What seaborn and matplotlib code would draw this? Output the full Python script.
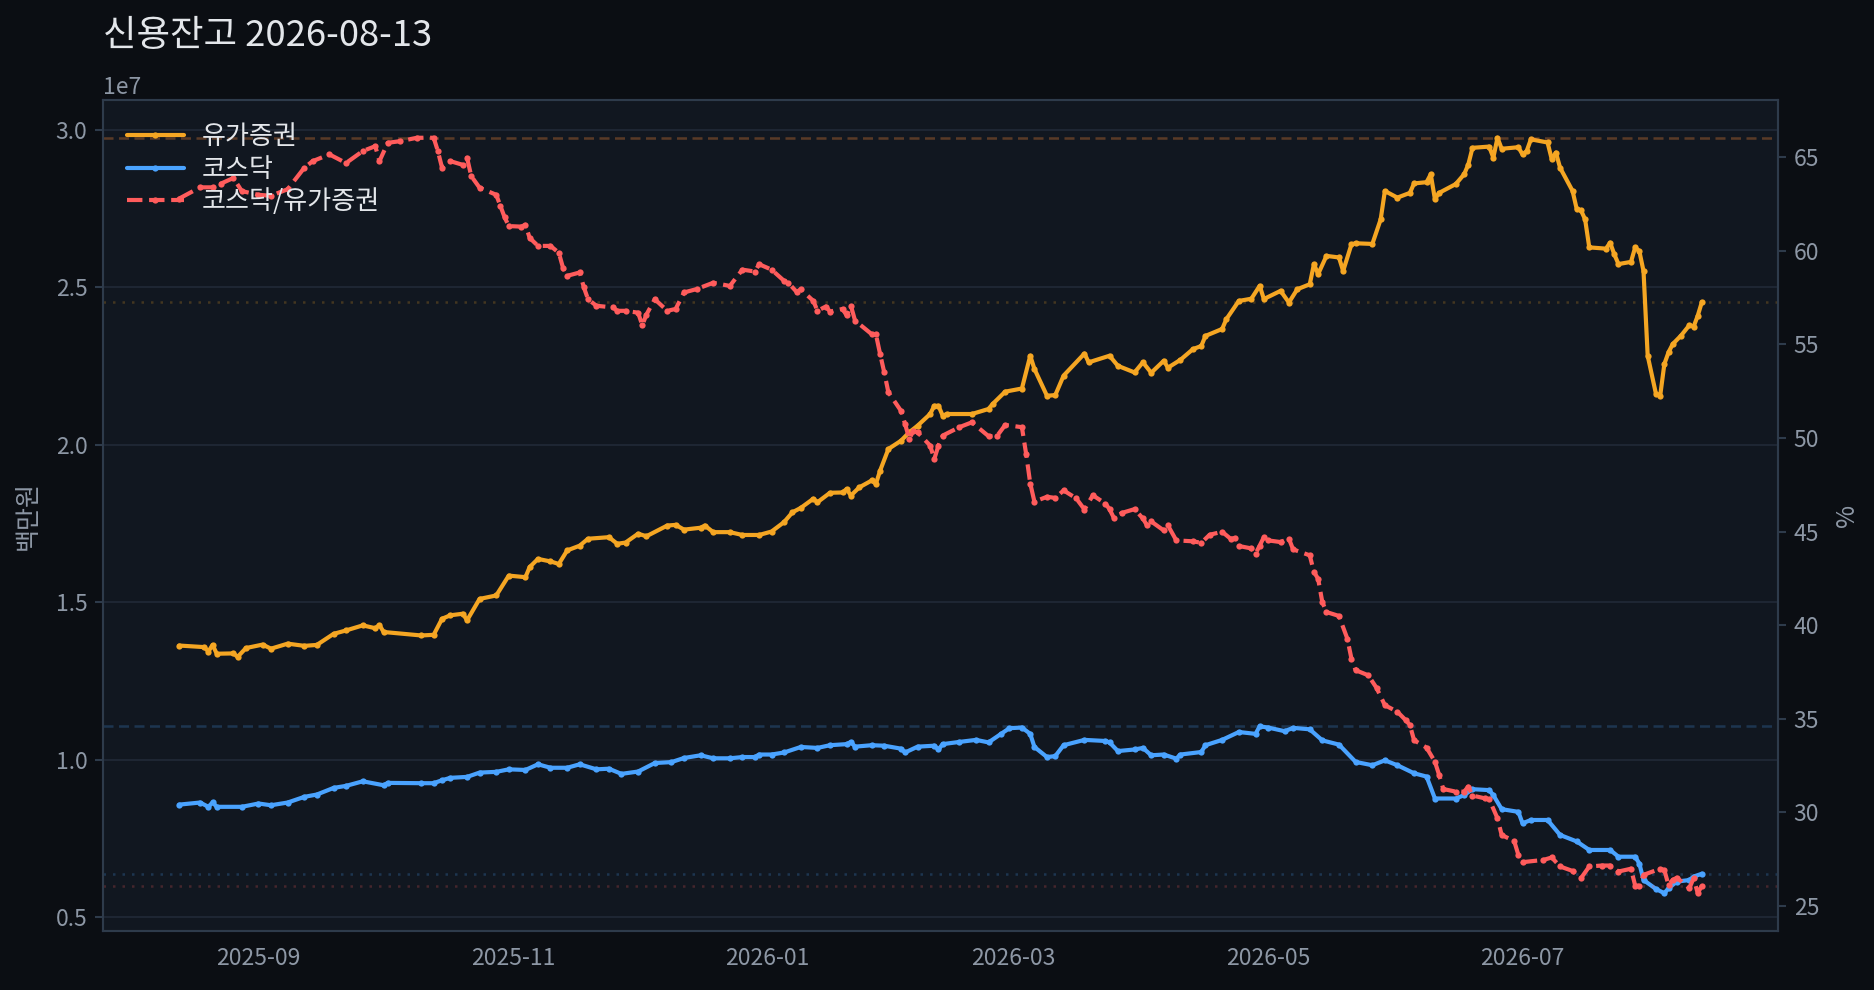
import matplotlib
matplotlib.use("Agg")
import matplotlib.pyplot as plt
import matplotlib.dates as mdates
import pandas as pd
import seaborn as sns

# ---------------- data ----------------
kospi_dates = [
    "2025-08-13", "2025-08-19", "2025-08-20", "2025-08-21", "2025-08-22", "2025-08-26", "2025-08-27",
    "2025-08-29", "2025-09-02", "2025-09-04", "2025-09-08", "2025-09-12", "2025-09-15", "2025-09-19",
    "2025-09-22", "2025-09-26", "2025-09-29", "2025-09-30", "2025-10-01", "2025-10-10", "2025-10-13",
    "2025-10-15", "2025-10-17", "2025-10-20", "2025-10-21", "2025-10-24", "2025-10-28", "2025-10-31",
    "2025-11-04", "2025-11-05", "2025-11-07", "2025-11-10", "2025-11-12", "2025-11-14", "2025-11-17",
    "2025-11-19", "2025-11-24", "2025-11-26", "2025-11-28", "2025-12-01", "2025-12-03", "2025-12-08",
    "2025-12-10", "2025-12-12", "2025-12-16", "2025-12-17", "2025-12-19", "2025-12-23", "2025-12-26",
    "2025-12-30", "2026-01-02", "2026-01-05", "2026-01-07", "2026-01-09", "2026-01-12", "2026-01-13",
    "2026-01-16", "2026-01-19", "2026-01-20", "2026-01-21", "2026-01-23", "2026-01-26", "2026-01-27",
    "2026-01-28", "2026-01-30", "2026-02-02", "2026-02-04", "2026-02-06", "2026-02-09", "2026-02-10",
    "2026-02-11", "2026-02-12", "2026-02-13", "2026-02-19", "2026-02-23", "2026-02-24", "2026-02-27",
    "2026-03-03", "2026-03-05", "2026-03-06", "2026-03-09", "2026-03-11", "2026-03-13", "2026-03-18",
    "2026-03-19", "2026-03-24", "2026-03-26", "2026-03-30", "2026-04-01", "2026-04-03", "2026-04-06",
    "2026-04-07", "2026-04-10", "2026-04-13", "2026-04-15", "2026-04-16", "2026-04-20", "2026-04-21",
    "2026-04-24", "2026-04-27", "2026-04-29", "2026-04-30", "2026-05-04", "2026-05-06", "2026-05-08",
    "2026-05-11", "2026-05-12", "2026-05-13", "2026-05-15", "2026-05-18", "2026-05-19", "2026-05-21",
    "2026-05-22", "2026-05-26", "2026-05-28", "2026-05-29", "2026-06-01", "2026-06-04", "2026-06-05",
    "2026-06-08", "2026-06-09", "2026-06-10", "2026-06-11", "2026-06-15", "2026-06-17", "2026-06-18",
    "2026-06-19", "2026-06-23", "2026-06-24", "2026-06-25", "2026-06-26", "2026-06-30", "2026-07-01",
    "2026-07-02", "2026-07-03", "2026-07-07", "2026-07-08", "2026-07-09", "2026-07-10", "2026-07-13",
    "2026-07-14", "2026-07-15", "2026-07-16", "2026-07-17", "2026-07-21", "2026-07-22", "2026-07-23",
    "2026-07-24", "2026-07-27", "2026-07-28", "2026-07-29", "2026-07-30", "2026-07-31", "2026-08-02",
    "2026-08-03", "2026-08-04", "2026-08-05", "2026-08-06", "2026-08-08", "2026-08-10", "2026-08-11",
    "2026-08-12", "2026-08-13",
]
kospi_values = [  # 백만원
    13630000, 13580000, 13440000, 13650000, 13370000, 13380000, 13270000,
    13550000, 13660000, 13530000, 13690000, 13620000, 13650000, 14000000,
    14110000, 14270000, 14180000, 14280000, 14060000, 13950000, 13970000,
    14480000, 14590000, 14640000, 14430000, 15110000, 15220000, 15850000,
    15800000, 16120000, 16380000, 16300000, 16220000, 16650000, 16800000,
    17020000, 17070000, 16860000, 16900000, 17180000, 17100000, 17440000,
    17460000, 17310000, 17370000, 17440000, 17230000, 17230000, 17140000,
    17140000, 17250000, 17550000, 17860000, 18000000, 18290000, 18180000,
    18480000, 18490000, 18600000, 18390000, 18650000, 18870000, 18760000,
    19180000, 19870000, 20130000, 20400000, 20610000, 20980000, 21240000,
    21240000, 20930000, 20980000, 20980000, 21140000, 21300000, 21690000,
    21790000, 22830000, 22410000, 21560000, 21580000, 22200000, 22900000,
    22620000, 22830000, 22510000, 22300000, 22620000, 22290000, 22670000,
    22450000, 22700000, 23040000, 23140000, 23460000, 23680000, 23990000,
    24570000, 24640000, 25050000, 24630000, 24890000, 24520000, 24940000,
    25100000, 25740000, 25420000, 26000000, 25950000, 25520000, 26370000,
    26400000, 26380000, 27160000, 28060000, 27850000, 28000000, 28300000,
    28340000, 28590000, 27800000, 28000000, 28280000, 28590000, 28900000,
    29430000, 29470000, 29120000, 29750000, 29400000, 29450000, 29220000,
    29330000, 29700000, 29600000, 29070000, 29280000, 28800000, 28060000,
    27480000, 27450000, 27160000, 26270000, 26230000, 26420000, 26050000,
    25740000, 25810000, 26270000, 26150000, 25520000, 22830000, 21610000,
    21560000, 22570000, 22940000, 23200000, 23470000, 23800000, 23750000,
    24100000, 24540000,
]

kosdaq_dates = [
    "2025-08-13", "2025-08-18", "2025-08-20", "2025-08-21", "2025-08-22", "2025-08-28", "2025-09-01",
    "2025-09-04", "2025-09-08", "2025-09-12", "2025-09-15", "2025-09-19", "2025-09-22", "2025-09-26",
    "2025-10-01", "2025-10-02", "2025-10-10", "2025-10-13", "2025-10-15", "2025-10-17", "2025-10-21",
    "2025-10-24", "2025-10-28", "2025-10-31", "2025-11-04", "2025-11-07", "2025-11-10", "2025-11-14",
    "2025-11-17", "2025-11-21", "2025-11-24", "2025-11-27", "2025-12-01", "2025-12-05", "2025-12-09",
    "2025-12-12", "2025-12-16", "2025-12-19", "2025-12-23", "2025-12-26", "2025-12-29", "2025-12-30",
    "2026-01-02", "2026-01-05", "2026-01-09", "2026-01-13", "2026-01-16", "2026-01-20", "2026-01-21",
    "2026-01-22", "2026-01-26", "2026-01-29", "2026-02-02", "2026-02-03", "2026-02-06", "2026-02-10",
    "2026-02-11", "2026-02-12", "2026-02-16", "2026-02-20", "2026-02-23", "2026-02-26", "2026-02-28",
    "2026-03-03", "2026-03-05", "2026-03-06", "2026-03-09", "2026-03-11", "2026-03-13", "2026-03-18",
    "2026-03-23", "2026-03-24", "2026-03-26", "2026-03-30", "2026-04-01", "2026-04-03", "2026-04-06",
    "2026-04-09", "2026-04-10", "2026-04-15", "2026-04-16", "2026-04-20", "2026-04-24", "2026-04-28",
    "2026-04-29", "2026-05-01", "2026-05-05", "2026-05-07", "2026-05-11", "2026-05-14", "2026-05-18",
    "2026-05-22", "2026-05-26", "2026-05-29", "2026-06-01", "2026-06-05", "2026-06-08", "2026-06-10",
    "2026-06-15", "2026-06-17", "2026-06-19", "2026-06-23", "2026-06-24", "2026-06-26", "2026-06-30",
    "2026-07-01", "2026-07-03", "2026-07-07", "2026-07-10", "2026-07-14", "2026-07-17", "2026-07-22",
    "2026-07-24", "2026-07-28", "2026-07-29", "2026-07-30", "2026-08-02", "2026-08-04", "2026-08-05",
    "2026-08-07", "2026-08-10", "2026-08-11", "2026-08-13",
]
kosdaq_values = [  # 백만원
    8580000, 8646000, 8510000, 8650000, 8510000, 8510000, 8615000,
    8560000, 8646000, 8827000, 8900000, 9110000, 9175000, 9320000,
    9195000, 9270000, 9260000, 9260000, 9354000, 9430000, 9460000,
    9597000, 9620000, 9700000, 9680000, 9860000, 9750000, 9750000,
    9860000, 9700000, 9720000, 9556000, 9630000, 9900000, 9930000,
    10060000, 10146000, 10050000, 10050000, 10090000, 10090000, 10170000,
    10170000, 10235000, 10410000, 10380000, 10466000, 10500000, 10570000,
    10420000, 10466000, 10450000, 10357000, 10235000, 10420000, 10450000,
    10330000, 10500000, 10570000, 10635000, 10555000, 10826000, 11006000,
    11027000, 10826000, 10410000, 10090000, 10120000, 10466000, 10635000,
    10600000, 10555000, 10280000, 10330000, 10380000, 10146000, 10170000,
    10040000, 10170000, 10250000, 10466000, 10635000, 10885000, 10826000,
    11065000, 11027000, 10910000, 11017000, 10970000, 10620000, 10485000,
    9935000, 9830000, 9985000, 9830000, 9575000, 9470000, 8774000,
    8774000, 8880000, 9070000, 9040000, 8880000, 8436000, 8350000,
    7986000, 8092000, 8092000, 7617000, 7410000, 7140000, 7140000,
    6926000, 6926000, 6710000, 6186000, 5900000, 5767000, 5925000,
    6136000, 6186000, 6296000, 6385000,
]

ratio_dates = [
    "2025-08-13", "2025-08-18", "2025-08-21", "2025-08-23", "2025-08-26", "2025-08-28", "2025-09-01",
    "2025-09-04", "2025-09-08", "2025-09-12", "2025-09-14", "2025-09-18", "2025-09-22", "2025-09-26",
    "2025-09-29", "2025-09-30", "2025-10-02", "2025-10-05", "2025-10-09", "2025-10-13", "2025-10-14",
    "2025-10-15", "2025-10-17", "2025-10-20", "2025-10-21", "2025-10-22", "2025-10-24", "2025-10-28",
    "2025-10-29", "2025-10-30", "2025-10-31", "2025-11-03", "2025-11-04", "2025-11-05", "2025-11-07",
    "2025-11-10", "2025-11-12", "2025-11-13", "2025-11-14", "2025-11-17", "2025-11-18", "2025-11-19",
    "2025-11-21", "2025-11-25", "2025-11-26", "2025-11-28", "2025-12-01", "2025-12-02", "2025-12-03",
    "2025-12-05", "2025-12-08", "2025-12-10", "2025-12-12", "2025-12-15", "2025-12-19", "2025-12-23",
    "2025-12-26", "2025-12-29", "2025-12-30", "2026-01-02", "2026-01-05", "2026-01-06", "2026-01-08",
    "2026-01-09", "2026-01-12", "2026-01-13", "2026-01-15", "2026-01-16", "2026-01-19", "2026-01-20",
    "2026-01-21", "2026-01-22", "2026-01-26", "2026-01-27", "2026-01-28", "2026-01-29", "2026-01-30",
    "2026-02-02", "2026-02-03", "2026-02-04", "2026-02-05", "2026-02-06", "2026-02-09", "2026-02-10",
    "2026-02-11", "2026-02-12", "2026-02-16", "2026-02-19", "2026-02-23", "2026-02-25", "2026-02-27",
    "2026-03-03", "2026-03-04", "2026-03-05", "2026-03-06", "2026-03-09", "2026-03-11", "2026-03-13",
    "2026-03-16", "2026-03-18", "2026-03-20", "2026-03-23", "2026-03-24", "2026-03-25", "2026-03-27",
    "2026-03-30", "2026-04-01", "2026-04-02", "2026-04-03", "2026-04-06", "2026-04-07", "2026-04-09",
    "2026-04-13", "2026-04-15", "2026-04-17", "2026-04-20", "2026-04-22", "2026-04-23", "2026-04-24",
    "2026-04-27", "2026-04-28", "2026-04-29", "2026-04-30", "2026-05-01", "2026-05-04", "2026-05-06",
    "2026-05-07", "2026-05-11", "2026-05-12", "2026-05-13", "2026-05-14", "2026-05-15", "2026-05-18",
    "2026-05-20", "2026-05-21", "2026-05-22", "2026-05-25", "2026-05-27", "2026-05-29", "2026-06-01",
    "2026-06-03", "2026-06-04", "2026-06-05", "2026-06-08", "2026-06-10", "2026-06-11", "2026-06-12",
    "2026-06-15", "2026-06-17", "2026-06-18", "2026-06-19", "2026-06-22", "2026-06-23", "2026-06-25",
    "2026-06-26", "2026-06-29", "2026-06-30", "2026-07-01", "2026-07-06", "2026-07-08", "2026-07-10",
    "2026-07-13", "2026-07-15", "2026-07-17", "2026-07-20", "2026-07-22", "2026-07-24", "2026-07-27",
    "2026-07-28", "2026-07-29", "2026-07-30", "2026-08-03", "2026-08-04", "2026-08-05", "2026-08-06",
    "2026-08-07", "2026-08-10", "2026-08-11", "2026-08-12", "2026-08-13",
]
ratio_values = [  # %
    62.8, 63.4, 63.4, 63.6, 63.9, 63.2, 63.0,
    62.95, 63.3, 64.45, 64.8, 65.16, 64.7, 65.34,
    65.6, 64.8, 65.78, 65.87, 66.05, 66.05, 65.34,
    64.45, 64.8, 64.6, 64.98, 64.0, 63.38, 63.0,
    62.4, 61.8, 61.33, 61.3, 61.4, 60.7, 60.27,
    60.27, 59.9, 59.1, 58.67, 58.85, 58.05, 57.42,
    57.07, 56.98, 56.8, 56.8, 56.7, 56.03, 56.6,
    57.42, 56.8, 56.9, 57.78, 57.96, 58.3, 58.13,
    59.0, 58.9, 59.29, 59.0, 58.4, 58.3, 57.81,
    57.95, 57.33, 56.8, 57.03, 56.76, 56.9, 56.55,
    57.08, 56.28, 55.55, 55.55, 54.5, 53.51, 52.44,
    51.46, 50.75, 49.95, 50.4, 50.3, 49.6, 48.88,
    49.6, 50.13, 50.58, 50.84, 50.1, 50.1, 50.7,
    50.58, 49.17, 47.57, 46.6, 46.86, 46.8, 47.2,
    46.78, 46.18, 46.94, 46.5, 46.2, 45.75, 46.0,
    46.2, 45.7, 45.33, 45.54, 45.06, 45.33, 44.53,
    44.48, 44.4, 44.83, 44.99, 44.62, 44.65, 44.23,
    44.1, 43.82, 44.25, 44.7, 44.53, 44.44, 44.62,
    44.05, 43.73, 42.84, 42.48, 41.24, 40.7, 40.49,
    39.28, 38.2, 37.59, 37.32, 36.65, 35.72, 35.37,
    34.92, 34.66, 33.85, 33.45, 32.7, 32.0, 31.24,
    31.1, 31.1, 31.37, 30.89, 30.74, 30.7, 29.67,
    28.78, 28.46, 27.72, 27.33, 27.45, 27.58, 27.1,
    26.86, 26.47, 27.1, 27.15, 27.15, 26.83, 26.98,
    26.08, 26.08, 26.65, 26.98, 26.9, 26.1, 26.38,
    26.5, 25.94, 26.47, 25.67, 26.08,
]

title_text = "신용잔고 2026-08-13"
label_kospi = "유가증권"
label_kosdaq = "코스닥"
label_ratio = "코스닥/유가증권"

# ---------------- style ----------------
FIG_BG = "#0b0e13"
AX_BG = "#111720"
SPINE = "#2e3b4b"
GRID = "#1e2633"
TICK_TXT = "#8d97a5"
MAIN_TXT = "#e3e6ea"
C_KOSPI = "#f5a623"
C_KOSDAQ = "#4aa3ff"
C_RATIO = "#ff5c5c"

sns.set_style("dark")
plt.rcParams["font.family"] = ["Noto Sans CJK KR", "DejaVu Sans"]
plt.rcParams["axes.unicode_minus"] = False

df_kospi = pd.DataFrame({"date": pd.to_datetime(kospi_dates), "value": kospi_values})
df_kosdaq = pd.DataFrame({"date": pd.to_datetime(kosdaq_dates), "value": kosdaq_values})
df_ratio = pd.DataFrame({"date": pd.to_datetime(ratio_dates), "value": ratio_values})

fig, ax = plt.subplots(figsize=(1874 / 150, 990 / 150), dpi=150)
fig.patch.set_facecolor(FIG_BG)
ax.set_facecolor(AX_BG)
fig.subplots_adjust(left=0.055, right=0.9488, bottom=0.0596, top=0.899)

line_kw = dict(marker="o", markersize=3.0, markeredgewidth=0, linewidth=2.0)
sns.lineplot(data=df_kospi, x="date", y="value", ax=ax, color=C_KOSPI,
             label=label_kospi, estimator=None, sort=False, **line_kw)
sns.lineplot(data=df_kosdaq, x="date", y="value", ax=ax, color=C_KOSDAQ,
             label=label_kosdaq, estimator=None, sort=False, **line_kw)

ax2 = ax.twinx()
sns.lineplot(data=df_ratio, x="date", y="value", ax=ax2, color=C_RATIO,
             label=label_ratio, estimator=None, sort=False, linestyle="--", **line_kw)

# reference lines: max (dashed) and latest (dotted)
ref_kw = dict(linewidth=1.2, alpha=0.22, zorder=1)
ax.axhline(df_kospi["value"].max(), color=C_KOSPI, dashes=(4, 2.2), **ref_kw)
ax.axhline(df_kospi["value"].iloc[-1], color=C_KOSPI, dashes=(1, 2.8), **ref_kw)
ax.axhline(df_kosdaq["value"].max(), color=C_KOSDAQ, dashes=(4, 2.2), **ref_kw)
ax.axhline(df_kosdaq["value"].iloc[-1], color=C_KOSDAQ, dashes=(1, 2.8), **ref_kw)
ax2.axhline(df_ratio["value"].max(), color=C_RATIO, dashes=(4, 2.2), linewidth=1.2,
            alpha=0.12, zorder=1)
ax2.axhline(df_ratio["value"].iloc[-1], color=C_RATIO, dashes=(1, 2.8), **ref_kw)

# axes styling
for a in (ax, ax2):
    for sp in a.spines.values():
        sp.set_color(SPINE)
        sp.set_linewidth(1.0)
    a.tick_params(colors=TICK_TXT, labelsize=11, length=4, width=1, color=SPINE)
    a.set_xlabel("")

ax.grid(False)
ax2.grid(False)
ax.yaxis.grid(True, color=GRID, linewidth=1.0)
ax.set_axisbelow(True)

ax.xaxis.set_major_locator(mdates.MonthLocator(bymonth=[1, 3, 5, 7, 9, 11]))
ax.xaxis.set_major_formatter(mdates.DateFormatter("%Y-%m"))
ax.yaxis.get_offset_text().set_color(TICK_TXT)
ax.yaxis.get_offset_text().set_fontsize(11)

ax.set_ylabel("백만원", color=TICK_TXT, fontsize=12, labelpad=7)
ax2.set_ylabel("%", color=TICK_TXT, fontsize=12, labelpad=7)

ax.set_title(title_text, loc="left", color=MAIN_TXT, fontsize=17.5, pad=26)

for a in (ax, ax2):
    lg = a.get_legend()
    if lg is not None:
        lg.remove()
h1, l1 = ax.get_legend_handles_labels()
h2, l2 = ax2.get_legend_handles_labels()
leg = ax2.legend(h1 + h2, l1 + l2, loc="upper left", frameon=False, fontsize=12.5,
                 labelcolor=MAIN_TXT, handlelength=2.2, borderaxespad=0.5,
                 labelspacing=0.2, handletextpad=0.7)

fig.savefig("out.png", dpi=150, facecolor=FIG_BG)
